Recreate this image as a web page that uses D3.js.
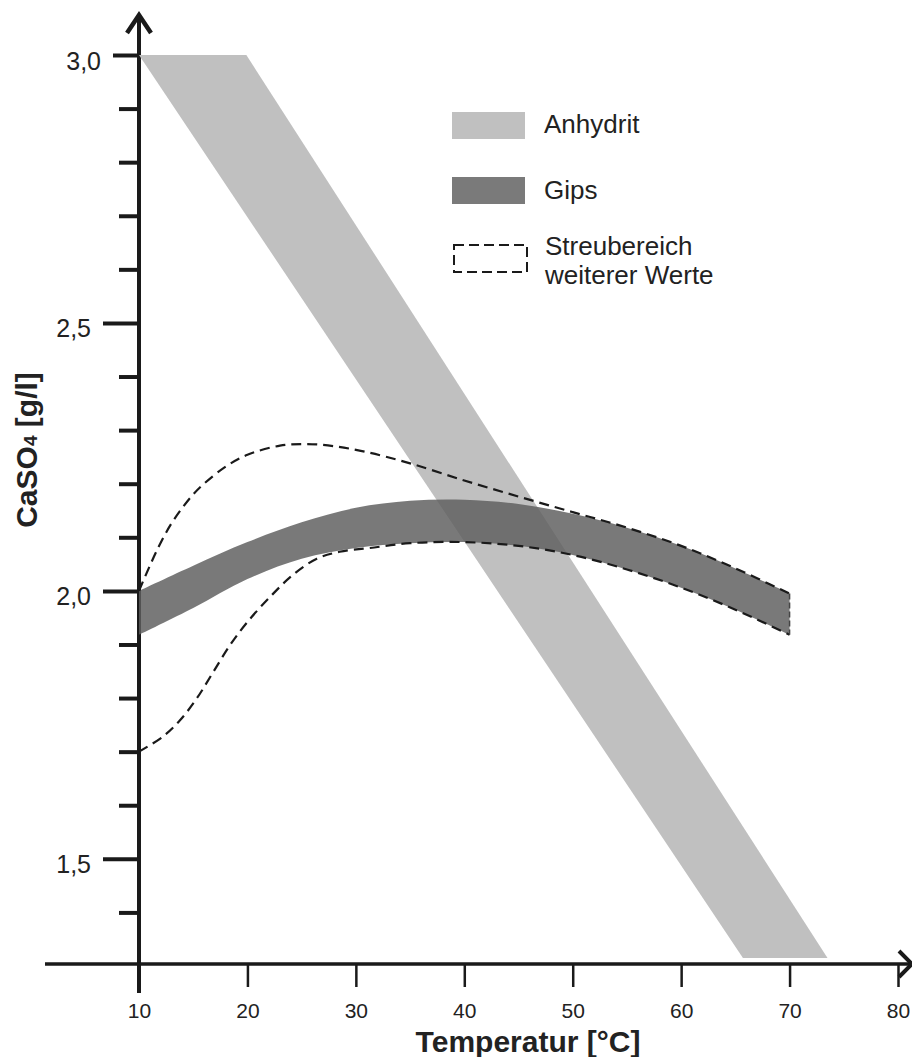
<!DOCTYPE html>
<html>
<head>
<meta charset="utf-8">
<script src="https://cdn.jsdelivr.net/npm/d3@7/dist/d3.min.js"></script>
<style>
  body { margin: 0; background: #fff; }
  svg { display: block; font-family: 'Liberation Sans', Arial, sans-serif; }
</style>
</head>
<body>
<div class="chart"></div>
<script>
// tick values
const xTicks = [10, 20, 30, 40, 50, 60, 70, 80];
const yLongTicks = [1.5, 2.0, 2.5];
const yTopTick = [3.0];
const yMinorTicks = [1.4, 1.6, 1.7, 1.8, 1.9, 2.1, 2.2, 2.3, 2.4, 2.6, 2.7, 2.8, 2.9];

// Anhydrit band (corners, temperature / g/l)
const anhydritT = [10, 19.9, 73.5, 65.7];
const anhydritV = [3.0, 3.0, 1.315, 1.315];

// Gips band
const gipsT = [10, 15, 20, 25, 30, 35, 40, 45, 50, 55, 60, 65, 70];
const gipsOben = [2.0, 2.047, 2.091, 2.128, 2.155, 2.168, 2.17, 2.162, 2.144, 2.118, 2.084, 2.042, 1.995];
const gipsUnten = [1.918, 1.968, 2.022, 2.06, 2.08, 2.089, 2.091, 2.084, 2.067, 2.04, 2.006, 1.965, 1.918];

// Streubereich weiterer Werte
const streuObenT = [10, 11, 12, 13, 14, 15, 16, 18, 20, 23, 25.5, 28, 31, 35, 40, 45, 50, 55, 60, 65, 70];
const streuOben = [2.0, 2.047, 2.09, 2.126, 2.155, 2.18, 2.2, 2.232, 2.254, 2.271, 2.274, 2.27, 2.259, 2.238, 2.206, 2.176, 2.147, 2.118, 2.084, 2.042, 1.995];
const streuUntenT = [10, 12.2, 13.8, 15.35, 16.8, 18.4, 20, 22.1, 24.2, 26.4, 28.5, 31.3, 35, 40, 45, 50, 55, 60, 65, 70];
const streuUnten = [1.7, 1.728, 1.759, 1.8, 1.847, 1.899, 1.942, 1.989, 2.03, 2.06, 2.073, 2.08, 2.089, 2.091, 2.084, 2.067, 2.04, 2.006, 1.965, 1.918];

const legendItems = ['Anhydrit', 'Gips'];

const width = 912;
const height = 1057;
const ink = '#1a1a1a';
const font = "'Liberation Sans', Arial, sans-serif";

const svg = d3.select('.chart')
  .append('svg')
    .attr('width', width)
    .attr('height', height);

svg.append('rect').attr('width', width).attr('height', height).attr('fill', '#fff');

const x = d3.scaleLinear().domain([10, 80]).range([139, 898]);
const y = d3.scaleLinear().domain([1.3, 3.0]).range([966, 55]);
const fmt = d => d.toFixed(1).replace('.', ',');

// axis lines + arrows
svg.append('line')
  .attr('x1', x(10)).attr('x2', x(10))
  .attr('y1', 14).attr('y2', 993)
  .attr('stroke', ink).attr('stroke-width', 4);
svg.append('path')
  .attr('d', `M${x(10) - 12},33 L${x(10)},15 L${x(10) + 12},33`)
  .attr('fill', 'none').attr('stroke', ink).attr('stroke-width', 4.5);

svg.append('line')
  .attr('x1', 45).attr('x2', 910)
  .attr('y1', 964).attr('y2', 964)
  .attr('stroke', ink).attr('stroke-width', 3.5);
svg.append('path')
  .attr('d', `M899,951 L912,964 L899,977`)
  .attr('fill', 'none').attr('stroke', ink).attr('stroke-width', 4);

// x ticks
const xAxis = svg.append('g')
  .attr('transform', 'translate(0,964)')
  .call(d3.axisBottom(x).tickValues(xTicks).tickSize(23).tickPadding(16).tickSizeOuter(0))
  .attr('font-family', font);
xAxis.select('.domain').remove();
xAxis.selectAll('line').attr('stroke', ink).attr('stroke-width', 2.5);
xAxis.selectAll('text')
  .attr('fill', '#222')
  .style('font-size', '21px');

// y ticks
function yTicks(values, size, labels) {
  const g = svg.append('g')
    .attr('transform', `translate(${x(10)},0)`)
    .call(d3.axisLeft(y).tickValues(values).tickSize(size).tickPadding(12)
      .tickFormat(labels ? fmt : ''))
    .attr('font-family', font);
  g.select('.domain').remove();
  g.selectAll('line').attr('stroke', ink).attr('stroke-width', 4);
  g.selectAll('text')
    .attr('fill', '#222')
    .attr('dy', '0.56em')
    .style('font-size', '25px');
}
yTicks(yLongTicks, 36, true);
yTicks(yTopTick, 26, true);
yTicks(yMinorTicks, 20, false);

// Anhydrit
svg.append('path')
  .datum(d3.range(anhydritT.length))
  .attr('d', d3.line().x(i => x(anhydritT[i])).y(i => y(anhydritV[i])).curve(d3.curveLinearClosed))
  .attr('fill', '#c0c0c0');

// Gips
svg.append('path')
  .datum(d3.range(gipsT.length))
  .attr('d', d3.area()
    .x(i => x(gipsT[i]))
    .y0(i => y(gipsUnten[i]))
    .y1(i => y(gipsOben[i]))
    .curve(d3.curveCatmullRom.alpha(0.5)))
  .attr('fill', '#5e5e5e')
  .attr('fill-opacity', 0.83);

// Streubereich (dashed)
const dash = '10,6';
function dashed(ts, vs) {
  svg.append('path')
    .datum(d3.range(ts.length))
    .attr('d', d3.line().x(i => x(ts[i])).y(i => y(vs[i])).curve(d3.curveCatmullRom.alpha(0.5)))
    .attr('fill', 'none')
    .attr('stroke', ink)
    .attr('stroke-width', 2.2)
    .attr('stroke-dasharray', dash);
}
dashed(streuObenT, streuOben);
dashed(streuUntenT, streuUnten);
svg.append('line')
  .attr('x1', x(70)).attr('x2', x(70))
  .attr('y1', y(streuOben[streuOben.length - 1]))
  .attr('y2', y(streuUnten[streuUnten.length - 1]))
  .attr('stroke', '#444').attr('stroke-width', 1.5).attr('stroke-dasharray', '6,3');

// axis titles
svg.append('text')
  .attr('x', 528).attr('y', 1052)
  .attr('text-anchor', 'middle')
  .style('font-size', '30px').style('font-weight', 'bold')
  .attr('fill', '#222')
  .text('Temperatur [°C]');

const yTitle = svg.append('text')
  .attr('transform', 'translate(37,450) rotate(-90)')
  .attr('text-anchor', 'middle')
  .style('font-size', '30px').style('font-weight', 'bold')
  .attr('fill', '#222');
yTitle.append('tspan').text('CaSO');
yTitle.append('tspan').style('font-size', '19px').text('4');
yTitle.append('tspan').text(' [g/l]');

// legend
const legend = svg.append('g');
legend.selectAll('rect')
  .data(legendItems)
  .enter()
  .append('rect')
    .attr('x', 452)
    .attr('y', (d, i) => 112 + i * 65)
    .attr('width', 73)
    .attr('height', 27)
    .attr('fill', (d, i) => i === 0 ? '#c0c0c0' : '#7a7a7a');
legend.selectAll('text.item')
  .data(legendItems)
  .enter()
  .append('text')
    .attr('class', 'item')
    .attr('x', 544)
    .attr('y', (d, i) => 133 + i * 66)
    .attr('fill', '#222')
    .style('font-size', '26px')
    .text(d => d);

legend.append('rect')
  .attr('x', 454).attr('y', 245)
  .attr('width', 73).attr('height', 27)
  .attr('fill', 'none')
  .attr('stroke', ink).attr('stroke-width', 2)
  .attr('stroke-dasharray', '10,5');
const lt = legend.append('text')
  .attr('fill', '#222')
  .style('font-size', '26px');
lt.append('tspan').attr('x', 545).attr('y', 255).text('Streubereich');
lt.append('tspan').attr('x', 545).attr('y', 284).text('weiterer Werte');
</script>
</body>
</html>
